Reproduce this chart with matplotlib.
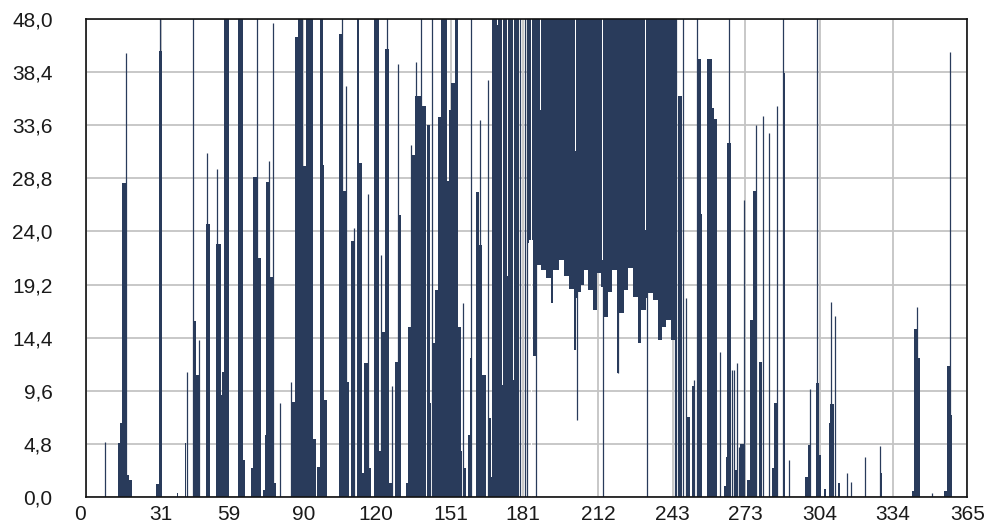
import matplotlib
matplotlib.use("Agg")
import matplotlib.pyplot as plt
import matplotlib.transforms as mtransforms
import numpy as np

# ---- data -------------------------------------------------------------
# solid columns rising from zero: start day, end day, height
pk_start = [13.3, 13.9, 14.7, 16.8, 17.9, 29.1, 30.2, 37.6, 40.9, 44.2, 45.7,
            49.8, 54.0, 55.8, 56.5, 57.2, 63.0, 64.9, 68.2, 69.0, 71.0, 73.3,
            74.0, 74.7, 76.1, 77.9, 85.3, 86.4, 87.8, 90.0, 91.0, 94.0, 95.7,
            96.7, 98.0, 98.7, 104.7, 106.0, 107.6, 109.9, 112.4, 112.9, 114.1,
            115.0, 117.1, 119.2, 121.2, 122.6, 124.0, 125.6, 127.9, 129.2,
            132.3, 133.2, 134.6, 136.4, 139.2, 141.0, 142.5, 143.4, 144.5,
            145.7, 146.8, 149.6, 150.4, 151.2, 152.6, 154.0, 155.1, 156.2,
            158.1, 158.8, 161.6, 162.9, 164.0, 166.4, 167.8, 168.2,
            245.2, 248.9, 250.9, 253.0, 254.5, 257.1, 259.2, 259.9, 264.0,
            265.0, 265.6, 268.8, 270.9, 273.7, 274.8, 276.2, 277.4, 278.8,
            284.0, 284.7, 288.4, 297.8, 298.9, 302.4, 303.4, 305.4, 307.5,
            308.2, 311.2, 328.6, 342.0, 343.0, 344.1, 355.4, 356.5, 357.6]
pk_end = [13.9, 14.7, 16.8, 17.9, 18.9, 30.2, 31.6, 38.0, 41.6, 45.7, 47.4,
          51.5, 55.8, 56.5, 57.2, 59.1, 64.9, 65.7, 69.0, 71.0, 72.4, 74.0,
          74.7, 76.1, 77.5, 78.8, 86.4, 87.8, 90.0, 91.0, 94.0, 95.3, 96.7,
          98.0, 98.7, 99.8, 106.0, 107.6, 108.8, 111.1, 112.9, 114.1, 115.0,
          117.1, 118.2, 121.2, 122.6, 124.0, 125.6, 126.8, 129.2, 130.6,
          133.2, 134.6, 136.4, 139.2, 140.6, 142.5, 143.0, 144.5, 145.7,
          146.8, 149.6, 150.4, 151.2, 152.6, 154.0, 155.1, 155.8, 157.4,
          158.8, 159.8, 162.9, 164.0, 165.7, 167.8, 168.2, 179.2,
          246.6, 250.2, 252.3, 254.5, 255.2, 259.2, 259.9, 261.3, 265.0,
          265.6, 267.0, 269.8, 272.3, 274.8, 276.2, 277.4, 278.0, 280.1,
          284.7, 286.1, 289.6, 298.9, 299.9, 303.4, 304.5, 306.5, 308.2,
          309.6, 312.3, 329.6, 343.0, 344.1, 345.5, 356.5, 357.6, 358.6]
pk_height = [4.9, 6.7, 28.4, 2.0, 1.5, 1.2, 40.3, 0.4, 4.9, 15.9, 11.0,
             24.7, 22.9, 9.2, 11.3, 50, 50, 3.3, 2.6, 28.9, 21.6, 0.6,
             5.6, 28.5, 19.9, 1.3, 8.6, 41.6, 50, 29.9, 50, 5.2, 2.7,
             50, 30.0, 8.8, 41.8, 27.7, 10.4, 23.1, 50, 30.2, 2.2,
             12.1, 2.6, 50, 4.2, 14.9, 40.5, 1.3, 12.2, 25.5,
             1.3, 15.4, 30.9, 36.2, 35.3, 33.6, 8.5, 13.9, 18.7,
             34.3, 50, 28.6, 35.0, 37.4, 50, 15.4, 4.2, 2.6,
             5.6, 12.6, 27.6, 22.8, 11.0, 7.1, 1.8, 50,
             36.2, 7.2, 10.0, 39.6, 25.6, 39.6, 35.2, 34.2, 1.0,
             3.6, 32.0, 2.4, 4.8, 1.5, 16.0, 27.7, 16.0, 12.2,
             2.6, 8.5, 38.3, 1.8, 4.7, 10.3, 3.8, 0.7, 6.7,
             8.4, 1.3, 2.2, 0.5, 15.2, 12.6, 0.5, 11.8, 7.4]

# summer band: columns running from a daily low up past the top of the scale
sm_start = [182.6, 183.6, 185.0, 186.4, 188.4, 190.5, 192.4, 193.4, 196.0,
            198.0, 200.2, 202.2, 202.9, 203.8, 205.0, 206.0, 207.8, 209.8,
            211.5, 213.2, 214.5, 216.0, 218.0, 219.8, 220.8, 222.6, 224.3,
            226.4, 228.4, 230.0, 232.0, 232.8, 234.6, 236.7, 238.4, 240.2,
            242.2]
sm_low = [23.0, 23.2, 12.7, 21.0, 20.5, 19.8, 17.5, 20.5, 21.4,
          20.0, 18.8, 13.3, 18.0, 18.5, 19.2, 20.5, 18.7, 16.9,
          20.2, 19.0, 16.3, 18.5, 20.5, 11.2, 16.6, 18.7, 20.7,
          18.1, 13.9, 16.9, 18.0, 18.4, 17.8, 14.2, 15.4, 16.0,
          14.2]
sm_last_day = 244.0

# single-sample spikes: day, low, high
sp_day = [7.7, 16.6, 30.6, 41.7, 44.4, 46.8, 50.1, 54.3, 70.6, 75.7, 77.6,
          80.2, 84.8, 105.8, 107.8, 110.9, 116.7, 122.3, 124.8, 126.8, 129.2,
          134.6, 136.8, 138.8, 143.2, 156.0, 159.6, 163.3, 166.5, 179.5,
          181.9, 182.8, 186.5, 203.5, 214.0, 220.4, 232.4, 243.9, 244.4,
          247.2, 248.3, 251.6, 253.2, 262.4, 266.1, 267.6, 268.5, 269.6,
          270.4, 272.6, 277.5, 280.2, 282.8, 286.2, 288.4, 290.9, 299.9,
          302.7, 308.5, 310.3, 315.1, 316.8, 322.7, 328.6, 344.1, 350.1,
          357.6]
sp_low = [0] * 33 + [7.0, 0, 11.2] + [0] * 31
sp_high = [5.0, 40.1, 50, 11.3, 50, 14.2, 31.1, 29.6, 50, 30.4, 42.8,
           8.5, 10.4, 50, 37.1, 24.3, 27.4, 21.9, 50, 10.0, 39.1,
           31.8, 39.3, 50, 50, 17.5, 50, 34.1, 37.7, 50,
           50, 50, 50, 50, 50, 50, 50, 50, 50,
           50, 18.0, 10.6, 50, 13.1, 50, 11.5, 11.5, 12.1,
           4.5, 26.8, 33.6, 34.4, 32.9, 35.3, 50, 3.3, 9.8,
           50, 17.6, 16.4, 2.2, 1.4, 3.6, 4.6, 17.2, 0.4,
           40.2]

# gaps cut from the top of the dense band: day, level the gap reaches down to
gap_day = [170.3, 172.5, 174.7, 176.9, 184.6, 188.1, 202.8, 213.8, 231.8]
gap_level = [42.7, 10.1, 20.0, 10.6, 0.0, 35.0, 31.3, 21.4, 24.1]

x_ticks = [0, 31, 59, 90, 120, 151, 181, 212, 243, 273, 304, 334, 365]
y_ticks = [0, 4.8, 9.6, 14.4, 19.2, 24.0, 28.8, 33.6, 38.4, 43.2]
y_labels = ["0,0", "4,8", "9,6", "14,4", "19,2", "24,0", "28,8", "33,6",
            "38,4", "48,0"]

# ---- drawing ----------------------------------------------------------
NAVY = "#293b5b"
W, H = 992, 531
fig = plt.figure(figsize=(W / 100, H / 100), dpi=100)
ax = fig.add_axes([86 / W, 1 - 497 / H, (967.5 - 86) / W, (497 - 19) / H])

ax.set_xlim(0, 365)
ax.set_ylim(0, 43.2)

pk_start_a = np.array(pk_start)
pk_end_a = np.array(pk_end)
ax.bar(pk_start_a, pk_height, width=pk_end_a - pk_start_a, align="edge",
       color=NAVY, linewidth=0, zorder=3)

sm_edges = np.array(sm_start + [sm_last_day])
sm_low_a = np.array(sm_low)
ax.bar(sm_edges[:-1], 50 - sm_low_a, bottom=sm_low_a,
       width=np.diff(sm_edges), align="edge", color=NAVY, linewidth=0,
       zorder=3)

ax.vlines(sp_day, sp_low, sp_high, color=NAVY, linewidth=0.9, zorder=3)

gap_level_a = np.array(gap_level)
ax.bar(gap_day, 50 - gap_level_a, bottom=gap_level_a, width=0.45,
       color="white", linewidth=0, zorder=4)

ax.set_xticks(x_ticks)
ax.set_xticklabels([str(t) for t in x_ticks])
ax.set_yticks(y_ticks)
ax.set_yticklabels(y_labels)

ax.grid(True, color="#c4c4c4", linewidth=1.3, zorder=0)
ax.set_axisbelow(True)
for s in ax.spines.values():
    s.set_color("#111111")
    s.set_linewidth(1.2)
    s.set_zorder(6)

ax.tick_params(axis="both", length=0, labelsize=15, colors="#1a1a1a")
ax.tick_params(axis="y", pad=24)
ax.tick_params(axis="x", pad=6)
for lab in ax.get_xticklabels() + ax.get_yticklabels():
    lab.set_fontfamily("Liberation Sans")

# the first day label sits a little left of the axis corner
first = ax.get_xticklabels()[0]
first.set_transform(first.get_transform() +
                    mtransforms.ScaledTranslation(-6 / 100, 0,
                                                  fig.dpi_scale_trans))

fig.savefig("out.png", dpi=100, facecolor="white")
